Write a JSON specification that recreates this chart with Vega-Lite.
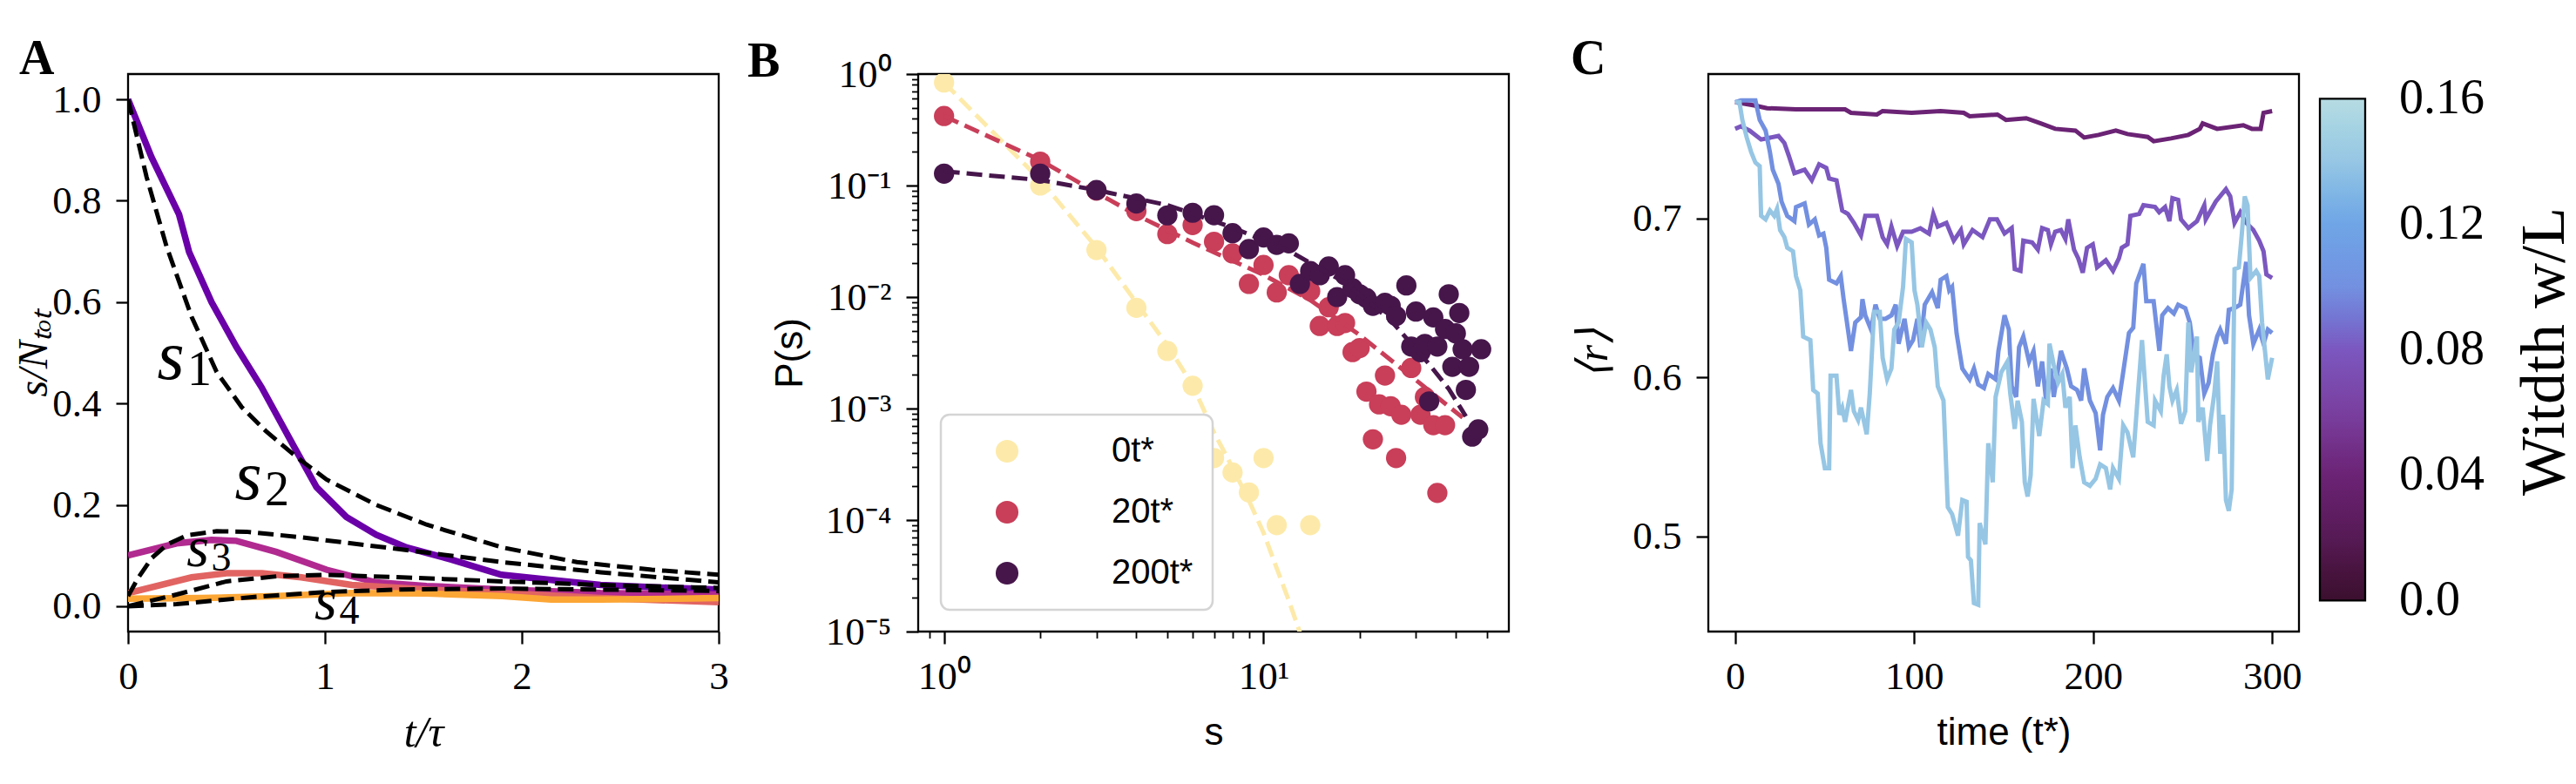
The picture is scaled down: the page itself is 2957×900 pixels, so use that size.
{
"$schema": "https://vega.github.io/schema/vega-lite/v6.json",
"background": "white",
"padding": {"left": 13, "top": 38, "right": 5, "bottom": 5},
"bounds": "flush",
"spacing": 229,
"config": {
  "view": {"stroke": "black", "strokeWidth": 2.3},
  "axis": {"domain": false, "grid": false, "tickColor": "black", "tickWidth": 2.3, "tickSize": 14, "labelFont": "Liberation Serif", "labelFontSize": 45, "labelColor": "black", "titleColor": "black", "titleFontWeight": "normal", "labelFlush": false, "titleLimit": 2000},
  "legend": {"strokeWidth": 2.5},
  "title": {"font": "Liberation Serif", "fontSize": 56, "fontWeight": "bold", "anchor": "start", "frame": "group", "baseline": "alphabetic", "color": "black"}
},
"resolve": {"scale": {"color": "independent", "stroke": "independent"}, "legend": {"color": "independent"}},
"datasets": {
  "a_sim": [
    {"t":0,"v":1.0,"s":"s1"},{"t":0.119,"v":0.886,"s":"s1"},{"t":0.259,"v":0.773,"s":"s1"},{"t":0.31,"v":0.699,"s":"s1"},{"t":0.424,"v":0.6,"s":"s1"},{"t":0.551,"v":0.511,"s":"s1"},{"t":0.678,"v":0.432,"s":"s1"},{"t":0.83,"v":0.324,"s":"s1"},{"t":0.957,"v":0.235,"s":"s1"},{"t":1.109,"v":0.176,"s":"s1"},{"t":1.261,"v":0.141,"s":"s1"},{"t":1.414,"v":0.116,"s":"s1"},{"t":1.642,"v":0.092,"s":"s1"},{"t":1.896,"v":0.062,"s":"s1"},{"t":2.15,"v":0.052,"s":"s1"},{"t":2.4,"v":0.042,"s":"s1"},{"t":2.657,"v":0.0375,"s":"s1"},{"t":3.0,"v":0.033,"s":"s1"},
    {"t":0,"v":0.1,"s":"s2"},{"t":0.246,"v":0.124,"s":"s2"},{"t":0.424,"v":0.131,"s":"s2"},{"t":0.55,"v":0.129,"s":"s2"},{"t":0.754,"v":0.107,"s":"s2"},{"t":1.008,"v":0.072,"s":"s2"},{"t":1.26,"v":0.047,"s":"s2"},{"t":1.516,"v":0.04,"s":"s2"},{"t":1.9,"v":0.033,"s":"s2"},{"t":2.4,"v":0.026,"s":"s2"},{"t":3,"v":0.023,"s":"s2"},
    {"t":0,"v":0.026,"s":"s3"},{"t":0.323,"v":0.057,"s":"s3"},{"t":0.5,"v":0.065,"s":"s3"},{"t":0.68,"v":0.065,"s":"s3"},{"t":0.88,"v":0.057,"s":"s3"},{"t":1.136,"v":0.042,"s":"s3"},{"t":1.52,"v":0.033,"s":"s3"},{"t":1.9,"v":0.026,"s":"s3"},{"t":2.4,"v":0.016,"s":"s3"},{"t":3,"v":0.008,"s":"s3"},
    {"t":0,"v":0.015,"s":"s4"},{"t":0.37,"v":0.016,"s":"s4"},{"t":0.755,"v":0.02,"s":"s4"},{"t":1.136,"v":0.026,"s":"s4"},{"t":1.52,"v":0.025,"s":"s4"},{"t":1.9,"v":0.02,"s":"s4"},{"t":2.15,"v":0.013,"s":"s4"},{"t":2.4,"v":0.013,"s":"s4"},{"t":3,"v":0.016,"s":"s4"}
  ],
  "a_fit": [
    {"t":0,"v":1.0,"s":"f1"},{"t":0.094,"v":0.847,"s":"f1"},{"t":0.196,"v":0.709,"s":"f1"},{"t":0.323,"v":0.571,"s":"f1"},{"t":0.45,"v":0.462,"s":"f1"},{"t":0.577,"v":0.393,"s":"f1"},{"t":0.704,"v":0.344,"s":"f1"},{"t":0.857,"v":0.294,"s":"f1"},{"t":1.008,"v":0.25,"s":"f1"},{"t":1.26,"v":0.2,"s":"f1"},{"t":1.516,"v":0.161,"s":"f1"},{"t":1.9,"v":0.116,"s":"f1"},{"t":2.28,"v":0.087,"s":"f1"},{"t":2.66,"v":0.072,"s":"f1"},{"t":3,"v":0.062,"s":"f1"},
    {"t":0,"v":0.02,"s":"f2"},{"t":0.05,"v":0.055,"s":"f2"},{"t":0.12,"v":0.095,"s":"f2"},{"t":0.2,"v":0.122,"s":"f2"},{"t":0.3,"v":0.14,"s":"f2"},{"t":0.45,"v":0.148,"s":"f2"},{"t":0.6,"v":0.147,"s":"f2"},{"t":0.88,"v":0.136,"s":"f2"},{"t":1.39,"v":0.112,"s":"f2"},{"t":1.9,"v":0.087,"s":"f2"},{"t":2.4,"v":0.067,"s":"f2"},{"t":3,"v":0.047,"s":"f2"},
    {"t":0,"v":0.0,"s":"f3"},{"t":0.246,"v":0.023,"s":"f3"},{"t":0.5,"v":0.049,"s":"f3"},{"t":0.755,"v":0.059,"s":"f3"},{"t":1.0,"v":0.062,"s":"f3"},{"t":1.39,"v":0.057,"s":"f3"},{"t":1.9,"v":0.049,"s":"f3"},{"t":2.4,"v":0.042,"s":"f3"},{"t":3,"v":0.036,"s":"f3"},
    {"t":0,"v":0.0,"s":"f4"},{"t":0.246,"v":0.004,"s":"f4"},{"t":0.63,"v":0.018,"s":"f4"},{"t":1.0,"v":0.028,"s":"f4"},{"t":1.39,"v":0.033,"s":"f4"},{"t":1.9,"v":0.035,"s":"f4"},{"t":3,"v":0.03,"s":"f4"}
  ],
  "a_lab": [
    {"t":0.217,"v":0.49,"base":"s","sub":"1","grp":"big"},
    {"t":0.611,"v":0.253,"base":"s","sub":"2","grp":"big"},
    {"t":0.354,"v":0.113,"base":"s","sub":"3","grp":"small"},
    {"t":1.004,"v":0.009,"base":"s","sub":"4","grp":"small"}
  ],
  "b_pts": [
    {"s":1,"P":0.84,"g":"0t*"},{"s":2,"P":0.1,"g":"0t*"},{"s":3,"P":0.0264,"g":"0t*"},{"s":4,"P":0.008,"g":"0t*"},{"s":5,"P":0.00328,"g":"0t*"},{"s":6,"P":0.0016,"g":"0t*"},{"s":7,"P":0.00036,"g":"0t*"},{"s":8,"P":0.000267,"g":"0t*"},{"s":9,"P":0.000177,"g":"0t*"},{"s":10,"P":0.00036,"g":"0t*"},{"s":11,"P":0.00009,"g":"0t*"},{"s":14,"P":0.00009,"g":"0t*"},
    {"s":1,"P":0.42,"g":"20t*"},{"s":2,"P":0.164,"g":"20t*"},{"s":3,"P":0.09,"g":"20t*"},{"s":4,"P":0.059,"g":"20t*"},{"s":5,"P":0.0367,"g":"20t*"},{"s":6,"P":0.0443,"g":"20t*"},{"s":7,"P":0.0313,"g":"20t*"},{"s":8,"P":0.0246,"g":"20t*"},{"s":9,"P":0.0131,"g":"20t*"},{"s":10,"P":0.0194,"g":"20t*"},{"s":11,"P":0.011,"g":"20t*"},{"s":12,"P":0.0157,"g":"20t*"},{"s":14,"P":0.0113,"g":"20t*"},{"s":15,"P":0.0055,"g":"20t*"},{"s":16,"P":0.0081,"g":"20t*"},{"s":17,"P":0.0055,"g":"20t*"},{"s":18,"P":0.00585,"g":"20t*"},{"s":19,"P":0.00321,"g":"20t*"},{"s":20,"P":0.00349,"g":"20t*"},{"s":21,"P":0.00142,"g":"20t*"},{"s":22,"P":0.00053,"g":"20t*"},{"s":23,"P":0.00109,"g":"20t*"},{"s":24,"P":0.00198,"g":"20t*"},{"s":25,"P":0.00105,"g":"20t*"},{"s":26,"P":0.00036,"g":"20t*"},{"s":27,"P":0.00088,"g":"20t*"},{"s":29,"P":0.00231,"g":"20t*"},{"s":31,"P":0.00088,"g":"20t*"},{"s":32,"P":0.00127,"g":"20t*"},{"s":34,"P":0.00071,"g":"20t*"},{"s":35,"P":0.000175,"g":"20t*"},{"s":37,"P":0.00071,"g":"20t*"},
    {"s":1,"P":0.128,"g":"200t*"},{"s":2,"P":0.128,"g":"200t*"},{"s":3,"P":0.091,"g":"200t*"},{"s":4,"P":0.069,"g":"200t*"},{"s":5,"P":0.054,"g":"200t*"},{"s":6,"P":0.057,"g":"200t*"},{"s":7,"P":0.0542,"g":"200t*"},{"s":8,"P":0.0374,"g":"200t*"},{"s":9,"P":0.0269,"g":"200t*"},{"s":10,"P":0.0342,"g":"200t*"},{"s":11,"P":0.0294,"g":"200t*"},{"s":12,"P":0.0303,"g":"200t*"},{"s":13,"P":0.0131,"g":"200t*"},{"s":14,"P":0.0171,"g":"200t*"},{"s":15,"P":0.0157,"g":"200t*"},{"s":16,"P":0.0188,"g":"200t*"},{"s":17,"P":0.01,"g":"200t*"},{"s":18,"P":0.0157,"g":"200t*"},{"s":19,"P":0.012,"g":"200t*"},{"s":20,"P":0.0106,"g":"200t*"},{"s":21,"P":0.0098,"g":"200t*"},{"s":22,"P":0.00835,"g":"200t*"},{"s":24,"P":0.00887,"g":"200t*"},{"s":25,"P":0.00835,"g":"200t*"},{"s":26,"P":0.00677,"g":"200t*"},{"s":28,"P":0.0127,"g":"200t*"},{"s":29,"P":0.0036,"g":"200t*"},{"s":30,"P":0.0074,"g":"200t*"},{"s":31,"P":0.0032,"g":"200t*"},{"s":32,"P":0.0038,"g":"200t*"},{"s":33,"P":0.00116,"g":"200t*"},{"s":34,"P":0.00657,"g":"200t*"},{"s":35,"P":0.0036,"g":"200t*"},{"s":37,"P":0.00517,"g":"200t*"},{"s":38,"P":0.0106,"g":"200t*"},{"s":39,"P":0.00237,"g":"200t*"},{"s":40,"P":0.00472,"g":"200t*"},{"s":41,"P":0.00719,"g":"200t*"},{"s":42,"P":0.0034,"g":"200t*"},{"s":43,"P":0.00147,"g":"200t*"},{"s":44,"P":0.00237,"g":"200t*"},{"s":45,"P":0.00056,"g":"200t*"},{"s":47,"P":0.00065,"g":"200t*"},{"s":48,"P":0.0034,"g":"200t*"}
  ],
  "b_fit": [
    {"s":1,"P":0.84,"g":"0t*"},{"s":1.35,"P":0.35,"g":"0t*"},{"s":2,"P":0.112,"g":"0t*"},{"s":3,"P":0.0278,"g":"0t*"},{"s":4,"P":0.0089,"g":"0t*"},{"s":5,"P":0.0037,"g":"0t*"},{"s":6,"P":0.00162,"g":"0t*"},{"s":7,"P":0.00061,"g":"0t*"},{"s":8,"P":0.000295,"g":"0t*"},{"s":9,"P":0.00015,"g":"0t*"},{"s":10,"P":0.000077,"g":"0t*"},{"s":11,"P":0.000037,"g":"0t*"},{"s":12,"P":0.000019,"g":"0t*"},{"s":13,"P":0.0000098,"g":"0t*"},{"s":14,"P":0.0000048,"g":"0t*"},
    {"s":1,"P":0.42,"g":"20t*"},{"s":2,"P":0.169,"g":"20t*"},{"s":3,"P":0.0865,"g":"20t*"},{"s":4,"P":0.0544,"g":"20t*"},{"s":6,"P":0.0308,"g":"20t*"},{"s":10,"P":0.0158,"g":"20t*"},{"s":14,"P":0.0094,"g":"20t*"},{"s":20,"P":0.00456,"g":"20t*"},{"s":30,"P":0.0018,"g":"20t*"},{"s":42,"P":0.00083,"g":"20t*"},
    {"s":1,"P":0.134,"g":"200t*"},{"s":2,"P":0.112,"g":"200t*"},{"s":3,"P":0.091,"g":"200t*"},{"s":5,"P":0.0668,"g":"200t*"},{"s":8,"P":0.042,"g":"200t*"},{"s":12,"P":0.026,"g":"200t*"},{"s":18,"P":0.0135,"g":"200t*"},{"s":25,"P":0.0062,"g":"200t*"},{"s":33,"P":0.0025,"g":"200t*"},{"s":38,"P":0.0015,"g":"200t*"},{"s":43,"P":0.00085,"g":"200t*"}
  ],
  "c_lines": [
    {"t":0,"r":0.7733,"w":0.04},{"t":11.3,"r":0.7711,"w":0.04},{"t":17.8,"r":0.7695,"w":0.04},{"t":33.9,"r":0.7688,"w":0.04},{"t":50.1,"r":0.7688,"w":0.04},{"t":61.4,"r":0.7688,"w":0.04},{"t":64.7,"r":0.7666,"w":0.04},{"t":79.2,"r":0.7655,"w":0.04},{"t":82.4,"r":0.7677,"w":0.04},{"t":98.6,"r":0.7666,"w":0.04},{"t":114.8,"r":0.7677,"w":0.04},{"t":127.7,"r":0.7666,"w":0.04},{"t":131,"r":0.7644,"w":0.04},{"t":146.5,"r":0.7655,"w":0.04},{"t":151.3,"r":0.7621,"w":0.04},{"t":162.6,"r":0.7632,"w":0.04},{"t":170.7,"r":0.7599,"w":0.04},{"t":178.8,"r":0.7565,"w":0.04},{"t":190.1,"r":0.7554,"w":0.04},{"t":195,"r":0.751,"w":0.04},{"t":203,"r":0.7527,"w":0.04},{"t":212.7,"r":0.7554,"w":0.04},{"t":219.2,"r":0.7532,"w":0.04},{"t":230.5,"r":0.7514,"w":0.04},{"t":233.8,"r":0.7487,"w":0.04},{"t":243.5,"r":0.7505,"w":0.04},{"t":253.2,"r":0.7527,"w":0.04},{"t":259.6,"r":0.7565,"w":0.04},{"t":261.2,"r":0.7599,"w":0.04},{"t":269.3,"r":0.7565,"w":0.04},{"t":283.9,"r":0.7588,"w":0.04},{"t":288.7,"r":0.7565,"w":0.04},{"t":293.6,"r":0.7565,"w":0.04},{"t":295.2,"r":0.7666,"w":0.04},{"t":300,"r":0.7677,"w":0.04},
    {"t":0,"r":0.7565,"w":0.08},{"t":3.2,"r":0.7581,"w":0.08},{"t":8.1,"r":0.7554,"w":0.08},{"t":14.5,"r":0.7498,"w":0.08},{"t":24.2,"r":0.752,"w":0.08},{"t":27.5,"r":0.7476,"w":0.08},{"t":29.9,"r":0.7398,"w":0.08},{"t":33.1,"r":0.7286,"w":0.08},{"t":38.8,"r":0.7308,"w":0.08},{"t":42.8,"r":0.7241,"w":0.08},{"t":46.9,"r":0.7342,"w":0.08},{"t":50.9,"r":0.7319,"w":0.08},{"t":52.5,"r":0.7252,"w":0.08},{"t":56.6,"r":0.7241,"w":0.08},{"t":59.8,"r":0.7051,"w":0.08},{"t":63,"r":0.7029,"w":0.08},{"t":66.3,"r":0.6973,"w":0.08},{"t":70.3,"r":0.6894,"w":0.08},{"t":72.7,"r":0.7017,"w":0.08},{"t":79.2,"r":0.7017,"w":0.08},{"t":82.4,"r":0.6883,"w":0.08},{"t":84.9,"r":0.6838,"w":0.08},{"t":87.3,"r":0.695,"w":0.08},{"t":90.5,"r":0.6827,"w":0.08},{"t":93.8,"r":0.6917,"w":0.08},{"t":98.6,"r":0.6917,"w":0.08},{"t":103.5,"r":0.6939,"w":0.08},{"t":108.3,"r":0.6905,"w":0.08},{"t":110.7,"r":0.7029,"w":0.08},{"t":113.2,"r":0.695,"w":0.08},{"t":118,"r":0.6973,"w":0.08},{"t":122.1,"r":0.6861,"w":0.08},{"t":126.1,"r":0.6928,"w":0.08},{"t":127.7,"r":0.6838,"w":0.08},{"t":132.6,"r":0.6928,"w":0.08},{"t":138.2,"r":0.6883,"w":0.08},{"t":142.3,"r":0.6995,"w":0.08},{"t":146.3,"r":0.6995,"w":0.08},{"t":150.5,"r":0.6906,"w":0.08},{"t":154.5,"r":0.694,"w":0.08},{"t":156.2,"r":0.6682,"w":0.08},{"t":159.4,"r":0.6671,"w":0.08},{"t":161,"r":0.6861,"w":0.08},{"t":165.9,"r":0.685,"w":0.08},{"t":169.1,"r":0.6805,"w":0.08},{"t":171.5,"r":0.694,"w":0.08},{"t":174.7,"r":0.6928,"w":0.08},{"t":176.4,"r":0.6838,"w":0.08},{"t":178.8,"r":0.6917,"w":0.08},{"t":182,"r":0.6928,"w":0.08},{"t":184.5,"r":0.6872,"w":0.08},{"t":186.1,"r":0.6995,"w":0.08},{"t":189.3,"r":0.6805,"w":0.08},{"t":191.7,"r":0.6749,"w":0.08},{"t":194.2,"r":0.6659,"w":0.08},{"t":196.6,"r":0.6816,"w":0.08},{"t":199.8,"r":0.6838,"w":0.08},{"t":202.2,"r":0.6693,"w":0.08},{"t":207.1,"r":0.6738,"w":0.08},{"t":211.1,"r":0.6671,"w":0.08},{"t":214.4,"r":0.6749,"w":0.08},{"t":216,"r":0.6816,"w":0.08},{"t":219.2,"r":0.6838,"w":0.08},{"t":220.8,"r":0.7017,"w":0.08},{"t":225.7,"r":0.7029,"w":0.08},{"t":228.1,"r":0.7084,"w":0.08},{"t":234.6,"r":0.7073,"w":0.08},{"t":236.9,"r":0.704,"w":0.08},{"t":240.2,"r":0.7073,"w":0.08},{"t":242.6,"r":0.6984,"w":0.08},{"t":244.3,"r":0.7129,"w":0.08},{"t":247.5,"r":0.7118,"w":0.08},{"t":249.1,"r":0.6995,"w":0.08},{"t":253.2,"r":0.694,"w":0.08},{"t":258,"r":0.6984,"w":0.08},{"t":262.1,"r":0.7084,"w":0.08},{"t":262.9,"r":0.6995,"w":0.08},{"t":268.5,"r":0.7107,"w":0.08},{"t":274.2,"r":0.7185,"w":0.08},{"t":276.6,"r":0.714,"w":0.08},{"t":279,"r":0.6973,"w":0.08},{"t":282.2,"r":0.704,"w":0.08},{"t":285.5,"r":0.6973,"w":0.08},{"t":289.5,"r":0.6928,"w":0.08},{"t":292.8,"r":0.6861,"w":0.08},{"t":295.2,"r":0.6794,"w":0.08},{"t":296.8,"r":0.6648,"w":0.08},{"t":300,"r":0.6626,"w":0.08},
    {"t":0,"r":0.7733,"w":0.1},{"t":3.2,"r":0.7744,"w":0.1},{"t":11.3,"r":0.7744,"w":0.1},{"t":13.7,"r":0.7621,"w":0.1},{"t":17,"r":0.7554,"w":0.1},{"t":19.4,"r":0.742,"w":0.1},{"t":21,"r":0.7308,"w":0.1},{"t":24.2,"r":0.7219,"w":0.1},{"t":25.9,"r":0.7107,"w":0.1},{"t":29.1,"r":0.7017,"w":0.1},{"t":33.1,"r":0.6984,"w":0.1},{"t":34,"r":0.7073,"w":0.1},{"t":38.8,"r":0.7096,"w":0.1},{"t":41.2,"r":0.6962,"w":0.1},{"t":44.5,"r":0.6995,"w":0.1},{"t":46.9,"r":0.6894,"w":0.1},{"t":49.3,"r":0.6905,"w":0.1},{"t":50.9,"r":0.6816,"w":0.1},{"t":52.5,"r":0.6615,"w":0.1},{"t":56.6,"r":0.6592,"w":0.1},{"t":59,"r":0.6637,"w":0.1},{"t":60.6,"r":0.6492,"w":0.1},{"t":63,"r":0.6302,"w":0.1},{"t":64.7,"r":0.6167,"w":0.1},{"t":67.1,"r":0.6346,"w":0.1},{"t":70.3,"r":0.638,"w":0.1},{"t":71.1,"r":0.6492,"w":0.1},{"t":72.7,"r":0.6391,"w":0.1},{"t":75.9,"r":0.6302,"w":0.1},{"t":78.4,"r":0.6458,"w":0.1},{"t":80.8,"r":0.6369,"w":0.1},{"t":84,"r":0.6369,"w":0.1},{"t":87.3,"r":0.6391,"w":0.1},{"t":89.7,"r":0.6458,"w":0.1},{"t":91.3,"r":0.6212,"w":0.1},{"t":94.6,"r":0.6369,"w":0.1},{"t":97,"r":0.619,"w":0.1},{"t":99.4,"r":0.6235,"w":0.1},{"t":101.8,"r":0.6369,"w":0.1},{"t":103.5,"r":0.619,"w":0.1},{"t":105.9,"r":0.6458,"w":0.1},{"t":110,"r":0.6537,"w":0.1},{"t":113.2,"r":0.6436,"w":0.1},{"t":114.8,"r":0.6615,"w":0.1},{"t":118,"r":0.6637,"w":0.1},{"t":119.6,"r":0.6548,"w":0.1},{"t":121.2,"r":0.657,"w":0.1},{"t":123.7,"r":0.6279,"w":0.1},{"t":126.9,"r":0.6056,"w":0.1},{"t":131,"r":0.5988,"w":0.1},{"t":133.4,"r":0.6056,"w":0.1},{"t":135.8,"r":0.5955,"w":0.1},{"t":139,"r":0.5933,"w":0.1},{"t":141.4,"r":0.6022,"w":0.1},{"t":145.5,"r":0.5988,"w":0.1},{"t":147.1,"r":0.6167,"w":0.1},{"t":150.5,"r":0.6391,"w":0.1},{"t":152.9,"r":0.6302,"w":0.1},{"t":154.5,"r":0.5944,"w":0.1},{"t":157,"r":0.5877,"w":0.1},{"t":158.6,"r":0.619,"w":0.1},{"t":161,"r":0.6257,"w":0.1},{"t":164.2,"r":0.61,"w":0.1},{"t":166.7,"r":0.6167,"w":0.1},{"t":169.1,"r":0.5944,"w":0.1},{"t":171.5,"r":0.61,"w":0.1},{"t":173.9,"r":0.5832,"w":0.1},{"t":176.4,"r":0.6056,"w":0.1},{"t":178,"r":0.5877,"w":0.1},{"t":182,"r":0.6167,"w":0.1},{"t":185.3,"r":0.6056,"w":0.1},{"t":187.7,"r":0.5944,"w":0.1},{"t":191,"r":0.5921,"w":0.1},{"t":193.3,"r":0.5854,"w":0.1},{"t":195,"r":0.6056,"w":0.1},{"t":198.2,"r":0.5854,"w":0.1},{"t":201.4,"r":0.5776,"w":0.1},{"t":203.9,"r":0.5541,"w":0.1},{"t":205.5,"r":0.5765,"w":0.1},{"t":207.9,"r":0.5877,"w":0.1},{"t":211.1,"r":0.5933,"w":0.1},{"t":214.4,"r":0.5854,"w":0.1},{"t":216.8,"r":0.6033,"w":0.1},{"t":220,"r":0.628,"w":0.1},{"t":222.4,"r":0.6313,"w":0.1},{"t":224.1,"r":0.6592,"w":0.1},{"t":228.1,"r":0.6715,"w":0.1},{"t":229.7,"r":0.648,"w":0.1},{"t":233.8,"r":0.648,"w":0.1},{"t":237,"r":0.6167,"w":0.1},{"t":238.6,"r":0.6391,"w":0.1},{"t":241.8,"r":0.6436,"w":0.1},{"t":245.1,"r":0.6402,"w":0.1},{"t":247.5,"r":0.6458,"w":0.1},{"t":251.5,"r":0.6436,"w":0.1},{"t":254,"r":0.6346,"w":0.1},{"t":256.4,"r":0.6145,"w":0.1},{"t":259.6,"r":0.6123,"w":0.1},{"t":262.1,"r":0.5899,"w":0.1},{"t":264.5,"r":0.5966,"w":0.1},{"t":266.9,"r":0.6145,"w":0.1},{"t":269.3,"r":0.6257,"w":0.1},{"t":271,"r":0.6302,"w":0.1},{"t":274.2,"r":0.6212,"w":0.1},{"t":275.8,"r":0.6425,"w":0.1},{"t":279,"r":0.6436,"w":0.1},{"t":282.2,"r":0.6458,"w":0.1},{"t":285.5,"r":0.6727,"w":0.1},{"t":287.1,"r":0.6391,"w":0.1},{"t":289.5,"r":0.6212,"w":0.1},{"t":292.8,"r":0.6302,"w":0.1},{"t":295.2,"r":0.6212,"w":0.1},{"t":297.6,"r":0.6302,"w":0.1},{"t":300,"r":0.628,"w":0.1},
    {"t":0,"r":0.7733,"w":0.14},{"t":2.4,"r":0.7733,"w":0.14},{"t":4,"r":0.7621,"w":0.14},{"t":6.5,"r":0.7509,"w":0.14},{"t":8.9,"r":0.742,"w":0.14},{"t":11.3,"r":0.7353,"w":0.14},{"t":13.7,"r":0.733,"w":0.14},{"t":14.5,"r":0.7017,"w":0.14},{"t":17,"r":0.6995,"w":0.14},{"t":19.4,"r":0.7051,"w":0.14},{"t":21.8,"r":0.7017,"w":0.14},{"t":23.4,"r":0.7062,"w":0.14},{"t":25.1,"r":0.6928,"w":0.14},{"t":27.5,"r":0.6883,"w":0.14},{"t":29.1,"r":0.6816,"w":0.14},{"t":32.3,"r":0.6794,"w":0.14},{"t":34,"r":0.6637,"w":0.14},{"t":36.4,"r":0.6548,"w":0.14},{"t":38,"r":0.6257,"w":0.14},{"t":42,"r":0.6235,"w":0.14},{"t":43.6,"r":0.5921,"w":0.14},{"t":46.1,"r":0.5899,"w":0.14},{"t":47.7,"r":0.5586,"w":0.14},{"t":50.1,"r":0.5429,"w":0.14},{"t":52.5,"r":0.5429,"w":0.14},{"t":53.3,"r":0.6011,"w":0.14},{"t":56.6,"r":0.6011,"w":0.14},{"t":58.2,"r":0.5765,"w":0.14},{"t":59.8,"r":0.581,"w":0.14},{"t":61.4,"r":0.572,"w":0.14},{"t":64.7,"r":0.5921,"w":0.14},{"t":66.3,"r":0.5787,"w":0.14},{"t":68.7,"r":0.5731,"w":0.14},{"t":70.3,"r":0.581,"w":0.14},{"t":73.5,"r":0.5642,"w":0.14},{"t":75.2,"r":0.5899,"w":0.14},{"t":77.6,"r":0.6413,"w":0.14},{"t":80.8,"r":0.6413,"w":0.14},{"t":82.4,"r":0.6123,"w":0.14},{"t":84.9,"r":0.5988,"w":0.14},{"t":87.3,"r":0.6056,"w":0.14},{"t":88.9,"r":0.6302,"w":0.14},{"t":91.3,"r":0.6346,"w":0.14},{"t":93.8,"r":0.657,"w":0.14},{"t":95.4,"r":0.6872,"w":0.14},{"t":98.6,"r":0.685,"w":0.14},{"t":100.2,"r":0.6548,"w":0.14},{"t":101.8,"r":0.6458,"w":0.14},{"t":104.3,"r":0.619,"w":0.14},{"t":106.7,"r":0.6346,"w":0.14},{"t":109.1,"r":0.6302,"w":0.14},{"t":111.5,"r":0.619,"w":0.14},{"t":113.2,"r":0.5944,"w":0.14},{"t":116.4,"r":0.5854,"w":0.14},{"t":118.8,"r":0.5183,"w":0.14},{"t":121.2,"r":0.5139,"w":0.14},{"t":124.5,"r":0.5004,"w":0.14},{"t":126.9,"r":0.5228,"w":0.14},{"t":129.3,"r":0.5217,"w":0.14},{"t":130.1,"r":0.487,"w":0.14},{"t":131.7,"r":0.4848,"w":0.14},{"t":133.4,"r":0.4579,"w":0.14},{"t":135.8,"r":0.4568,"w":0.14},{"t":136.6,"r":0.5083,"w":0.14},{"t":139.8,"r":0.4949,"w":0.14},{"t":141.4,"r":0.5586,"w":0.14},{"t":143.9,"r":0.534,"w":0.14},{"t":145.5,"r":0.5877,"w":0.14},{"t":148.7,"r":0.6033,"w":0.14},{"t":152.1,"r":0.61,"w":0.14},{"t":153.7,"r":0.5899,"w":0.14},{"t":156.2,"r":0.5676,"w":0.14},{"t":157.8,"r":0.5854,"w":0.14},{"t":160.2,"r":0.572,"w":0.14},{"t":161.8,"r":0.534,"w":0.14},{"t":163.4,"r":0.525,"w":0.14},{"t":165.1,"r":0.5385,"w":0.14},{"t":166.7,"r":0.5865,"w":0.14},{"t":169.9,"r":0.5631,"w":0.14},{"t":172.3,"r":0.5854,"w":0.14},{"t":174.7,"r":0.5832,"w":0.14},{"t":175.6,"r":0.6212,"w":0.14},{"t":178,"r":0.6078,"w":0.14},{"t":180.4,"r":0.5966,"w":0.14},{"t":182.8,"r":0.6022,"w":0.14},{"t":184.5,"r":0.581,"w":0.14},{"t":186.9,"r":0.5877,"w":0.14},{"t":188.5,"r":0.5429,"w":0.14},{"t":190.1,"r":0.5698,"w":0.14},{"t":192.5,"r":0.5497,"w":0.14},{"t":195,"r":0.534,"w":0.14},{"t":198.2,"r":0.5318,"w":0.14},{"t":201.4,"r":0.5362,"w":0.14},{"t":203.9,"r":0.5452,"w":0.14},{"t":207.1,"r":0.5429,"w":0.14},{"t":209.5,"r":0.5295,"w":0.14},{"t":211.1,"r":0.5429,"w":0.14},{"t":214.4,"r":0.5362,"w":0.14},{"t":216.8,"r":0.5698,"w":0.14},{"t":219.2,"r":0.5653,"w":0.14},{"t":222.4,"r":0.5497,"w":0.14},{"t":224.9,"r":0.5877,"w":0.14},{"t":227.3,"r":0.6235,"w":0.14},{"t":230.5,"r":0.572,"w":0.14},{"t":233.8,"r":0.5698,"w":0.14},{"t":234.6,"r":0.5854,"w":0.14},{"t":237.8,"r":0.5787,"w":0.14},{"t":239.4,"r":0.6011,"w":0.14},{"t":241.1,"r":0.6145,"w":0.14},{"t":242.6,"r":0.5944,"w":0.14},{"t":244.3,"r":0.5854,"w":0.14},{"t":246.7,"r":0.5921,"w":0.14},{"t":249.1,"r":0.5709,"w":0.14},{"t":251.5,"r":0.5787,"w":0.14},{"t":253.2,"r":0.6346,"w":0.14},{"t":254.8,"r":0.6033,"w":0.14},{"t":258,"r":0.6257,"w":0.14},{"t":258.8,"r":0.572,"w":0.14},{"t":261.2,"r":0.581,"w":0.14},{"t":263.7,"r":0.5474,"w":0.14},{"t":265.3,"r":0.5698,"w":0.14},{"t":267.7,"r":0.5899,"w":0.14},{"t":269.3,"r":0.6101,"w":0.14},{"t":271,"r":0.5519,"w":0.14},{"t":272.6,"r":0.5765,"w":0.14},{"t":274.2,"r":0.5228,"w":0.14},{"t":275.8,"r":0.516,"w":0.14},{"t":277.4,"r":0.5295,"w":0.14},{"t":279,"r":0.6682,"w":0.14},{"t":281.4,"r":0.6693,"w":0.14},{"t":283.1,"r":0.6906,"w":0.14},{"t":284.7,"r":0.714,"w":0.14},{"t":286.3,"r":0.7084,"w":0.14},{"t":287.9,"r":0.6626,"w":0.14},{"t":291.1,"r":0.667,"w":0.14},{"t":292.8,"r":0.6637,"w":0.14},{"t":294.4,"r":0.6346,"w":0.14},{"t":297.6,"r":0.5988,"w":0.14},{"t":300,"r":0.6123,"w":0.14}
  ]
},
"hconcat": [
  {
    "width": 678, "height": 640,
    "title": {"text": "A", "dx": -125, "offset": -12},
    "layer": [
      {
        "data": {"name": "a_sim"},
        "mark": {"type": "line", "strokeWidth": 7.5, "clip": true},
        "encoding": {
          "x": {"field": "t", "type": "quantitative", "scale": {"domain": [0, 3], "nice": false, "zero": false},
                "axis": {"values": [0, 1, 2, 3], "format": "d", "labelPadding": 15, "title": "t/τ", "titleFont": "Liberation Serif", "titleFontStyle": "italic", "titleFontSize": 50, "titleX": 339, "titleY": 116, "titleBaseline": "middle", "titleAlign": "center"}},
          "y": {"field": "v", "type": "quantitative", "scale": {"domain": [-0.05, 1.05], "nice": false, "zero": false},
                "axis": {"values": [0, 0.2, 0.4, 0.6, 0.8, 1.0], "format": ".1f", "labelPadding": 17, "title": "s/Nₜₒₜ", "titleFont": "Liberation Serif", "titleFontStyle": "italic", "titleFontSize": 48, "titleX": -108, "titleY": 320, "titleAngle": -90, "titleBaseline": "middle", "titleAlign": "center"}},
          "color": {"field": "s", "type": "nominal", "scale": {"domain": ["s1", "s2", "s3", "s4"], "range": ["#6a00a8", "#b12a90", "#e16462", "#fca636"]}, "legend": null}
        }
      },
      {
        "data": {"name": "a_fit"},
        "mark": {"type": "line", "color": "black", "strokeWidth": 5, "strokeDash": [18, 8], "clip": true},
        "encoding": {
          "x": {"field": "t", "type": "quantitative"},
          "y": {"field": "v", "type": "quantitative"},
          "detail": {"field": "s", "type": "nominal"}
        }
      },
      {
        "data": {"name": "a_lab"},
        "transform": [{"filter": "datum.grp == 'big'"}],
        "mark": {"type": "text", "font": "Liberation Serif", "fontStyle": "italic", "fontSize": 80, "color": "black", "align": "center", "baseline": "middle"},
        "encoding": {"x": {"field": "t", "type": "quantitative"}, "y": {"field": "v", "type": "quantitative"}, "text": {"field": "base"}}
      },
      {
        "data": {"name": "a_lab"},
        "transform": [{"filter": "datum.grp == 'big'"}],
        "mark": {"type": "text", "font": "Liberation Serif", "fontSize": 56, "color": "black", "align": "center", "baseline": "middle", "dx": 33, "dy": 14},
        "encoding": {"x": {"field": "t", "type": "quantitative"}, "y": {"field": "v", "type": "quantitative"}, "text": {"field": "sub"}}
      },
      {
        "data": {"name": "a_lab"},
        "transform": [{"filter": "datum.grp == 'small'"}],
        "mark": {"type": "text", "font": "Liberation Serif", "fontStyle": "italic", "fontSize": 66, "color": "black", "align": "center", "baseline": "middle"},
        "encoding": {"x": {"field": "t", "type": "quantitative"}, "y": {"field": "v", "type": "quantitative"}, "text": {"field": "base"}}
      },
      {
        "data": {"name": "a_lab"},
        "transform": [{"filter": "datum.grp == 'small'"}],
        "mark": {"type": "text", "font": "Liberation Serif", "fontSize": 46, "color": "black", "align": "center", "baseline": "middle", "dx": 27, "dy": 11},
        "encoding": {"x": {"field": "t", "type": "quantitative"}, "y": {"field": "v", "type": "quantitative"}, "text": {"field": "sub"}}
      }
    ]
  },
  {
    "width": 678, "height": 640,
    "title": {"text": "B", "dx": -196, "offset": -37},
    "layer": [
      {
        "data": {"name": "b_pts"},
        "transform": [{"filter": "datum.g == '0t*'"}],
        "mark": {"type": "point", "filled": true, "size": 540, "opacity": 1, "clip": true},
        "encoding": {
          "x": {"field": "s", "type": "quantitative", "scale": {"type": "log", "domain": [0.83, 58.6], "nice": false},
                "axis": {"values": [0.9, 1, 2, 3, 4, 5, 6, 7, 8, 9, 10, 20, 30, 40, 50], "labelOverlap": false,
                         "labelExpr": "abs(log(datum.value)/LN10 - round(log(datum.value)/LN10)) < 0.01 ? '10' + (round(log(datum.value)/LN10) < 0 ? '⁻' : '') + ['⁰','¹','²','³','⁴','⁵'][abs(round(log(datum.value)/LN10))] : ''",
                         "tickSize": {"condition": {"test": "abs(log(datum.value)/LN10 - round(log(datum.value)/LN10)) < 0.01", "value": 14}, "value": 7.5},
                         "tickWidth": {"condition": {"test": "abs(log(datum.value)/LN10 - round(log(datum.value)/LN10)) < 0.01", "value": 2.3}, "value": 1.8},
                         "labelPadding": 15, "title": "s", "titleFont": "Liberation Sans", "titleFontSize": 44, "titleX": 339, "titleY": 116, "titleBaseline": "middle", "titleAlign": "center"}},
          "y": {"field": "P", "type": "quantitative", "scale": {"type": "log", "domain": [0.00001, 1], "nice": false},
                "axis": {"values": [0.00001,0.00002,0.00003,0.00004,0.00005,0.00006,0.00007,0.00008,0.00009,0.0001,0.0002,0.0003,0.0004,0.0005,0.0006,0.0007,0.0008,0.0009,0.001,0.002,0.003,0.004,0.005,0.006,0.007,0.008,0.009,0.01,0.02,0.03,0.04,0.05,0.06,0.07,0.08,0.09,0.1,0.2,0.3,0.4,0.5,0.6,0.7,0.8,0.9,1],
                         "labelOverlap": false,
                         "labelExpr": "abs(log(datum.value)/LN10 - round(log(datum.value)/LN10)) < 0.01 ? '10' + (round(log(datum.value)/LN10) < 0 ? '⁻' : '') + ['⁰','¹','²','³','⁴','⁵'][abs(round(log(datum.value)/LN10))] : ''",
                         "tickSize": {"condition": {"test": "abs(log(datum.value)/LN10 - round(log(datum.value)/LN10)) < 0.01", "value": 14}, "value": 7.5},
                         "tickWidth": {"condition": {"test": "abs(log(datum.value)/LN10 - round(log(datum.value)/LN10)) < 0.01", "value": 2.3}, "value": 1.8},
                         "labelPadding": 17, "title": "P(s)", "titleFont": "Liberation Sans", "titleFontSize": 44, "titleX": -147, "titleY": 320, "titleAngle": -90, "titleBaseline": "middle", "titleAlign": "center"}},
          "color": {"field": "g", "type": "nominal", "scale": {"domain": ["0t*", "20t*", "200t*"], "range": ["#fdeaaa", "#c93e59", "#46164b"]},
                    "legend": {"orient": "none", "legendX": 26, "legendY": 391, "title": null, "labelFont": "Liberation Sans", "labelFontSize": 40, "labelColor": "black", "symbolSize": 680, "symbolType": "circle", "symbolStrokeWidth": 0, "symbolOpacity": 1, "padding": 22, "rowPadding": 30, "labelOffset": 100, "symbolOffset": 34, "strokeColor": "#d4d4d4", "fillColor": "white", "cornerRadius": 10}}
        }
      },
      {
        "data": {"name": "b_fit"},
        "transform": [{"filter": "datum.g == '0t*'"}],
        "mark": {"type": "line", "strokeWidth": 5, "strokeDash": [18, 8], "clip": true},
        "encoding": {
          "x": {"field": "s", "type": "quantitative"},
          "y": {"field": "P", "type": "quantitative"},
          "stroke": {"field": "g", "type": "nominal", "scale": {"domain": ["0t*", "20t*", "200t*"], "range": ["#fdeaaa", "#c93e59", "#46164b"]}, "legend": null}
        }
      },
      {
        "data": {"name": "b_pts"},
        "transform": [{"filter": "datum.g == '20t*'"}],
        "mark": {"type": "point", "filled": true, "size": 540, "opacity": 1, "clip": true},
        "encoding": {
          "x": {"field": "s", "type": "quantitative"},
          "y": {"field": "P", "type": "quantitative"},
          "color": {"field": "g", "type": "nominal", "scale": {"domain": ["0t*", "20t*", "200t*"], "range": ["#fdeaaa", "#c93e59", "#46164b"]}}
        }
      },
      {
        "data": {"name": "b_fit"},
        "transform": [{"filter": "datum.g == '20t*'"}],
        "mark": {"type": "line", "strokeWidth": 5, "strokeDash": [18, 8], "clip": true},
        "encoding": {
          "x": {"field": "s", "type": "quantitative"},
          "y": {"field": "P", "type": "quantitative"},
          "stroke": {"field": "g", "type": "nominal", "scale": {"domain": ["0t*", "20t*", "200t*"], "range": ["#fdeaaa", "#c93e59", "#46164b"]}, "legend": null}
        }
      },
      {
        "data": {"name": "b_pts"},
        "transform": [{"filter": "datum.g == '200t*'"}],
        "mark": {"type": "point", "filled": true, "size": 540, "opacity": 1, "clip": true},
        "encoding": {
          "x": {"field": "s", "type": "quantitative"},
          "y": {"field": "P", "type": "quantitative"},
          "color": {"field": "g", "type": "nominal", "scale": {"domain": ["0t*", "20t*", "200t*"], "range": ["#fdeaaa", "#c93e59", "#46164b"]}}
        }
      },
      {
        "data": {"name": "b_fit"},
        "transform": [{"filter": "datum.g == '200t*'"}],
        "mark": {"type": "line", "strokeWidth": 5, "strokeDash": [18, 8], "clip": true},
        "encoding": {
          "x": {"field": "s", "type": "quantitative"},
          "y": {"field": "P", "type": "quantitative"},
          "stroke": {"field": "g", "type": "nominal", "scale": {"domain": ["0t*", "20t*", "200t*"], "range": ["#fdeaaa", "#c93e59", "#46164b"]}, "legend": null}
        }
      }
    ]
  },
  {
    "width": 678, "height": 640,
    "title": {"text": "C", "dx": -158, "offset": -12},
    "resolve": {"axis": {"y": "independent"}},
    "layer": [
      {
        "data": {"name": "c_lines"},
        "mark": {"type": "line", "strokeWidth": 5, "clip": true},
        "encoding": {
          "x": {"field": "t", "type": "quantitative", "scale": {"domain": [-15, 315], "nice": false, "zero": false},
                "axis": {"values": [0, 100, 200, 300], "format": "d", "labelPadding": 15, "title": "time (t*)", "titleFont": "Liberation Sans", "titleFontSize": 44, "titleX": 339, "titleY": 116, "titleBaseline": "middle", "titleAlign": "center"}},
          "y": {"field": "r", "type": "quantitative", "scale": {"domain": [0.44, 0.791], "nice": false, "zero": false},
                "axis": {"values": [0.5, 0.6, 0.7], "format": ".1f", "labelPadding": 17, "title": "⟨r⟩", "titleFont": "Liberation Serif", "titleFontStyle": "italic", "titleFontSize": 50, "titleX": -132, "titleY": 320, "titleAngle": -90, "titleBaseline": "middle", "titleAlign": "center"}},
          "color": {"field": "w", "type": "quantitative",
                    "scale": {"domain": [0, 0.02, 0.04, 0.06, 0.08, 0.1, 0.12, 0.14, 0.16], "range": ["#3b0f2e", "#561a55", "#6b2375", "#793f9f", "#7b57bf", "#7390e0", "#6fa5e6", "#96c6e4", "#b6dce3"]},
                    "legend": {"orient": "none", "legendX": 702, "legendY": 28.4, "direction": "vertical", "gradientLength": 576, "gradientThickness": 52, "gradientStrokeColor": "black", "gradientStrokeWidth": 2.3,
                               "values": [0, 0.04, 0.08, 0.12, 0.16], "labelExpr": "datum.value == 0 ? '0.0' : format(datum.value, '.2f')",
                               "labelFont": "Liberation Serif", "labelFontSize": 56, "labelColor": "black", "labelOffset": 39, "labelOverlap": false, "labelBaseline": "middle",
                               "encode": {"labels": {"update": {"baseline": {"value": "middle"}}}},
                               "title": null, "padding": 0}},
          "detail": {"field": "w", "type": "nominal"}
        }
      },
      {
        "data": {"values": [{}]},
        "mark": {"type": "rule", "opacity": 0},
        "encoding": {
          "y": {"datum": 0.6, "type": "quantitative",
                "axis": {"orient": "right", "labels": false, "ticks": false, "title": "Witdth w/L", "titleFont": "Liberation Serif", "titleFontSize": 72, "titleX": 281, "titleY": 318, "titleAngle": -90, "titleBaseline": "middle", "titleAlign": "center"}}
        }
      }
    ]
  }
]
}
